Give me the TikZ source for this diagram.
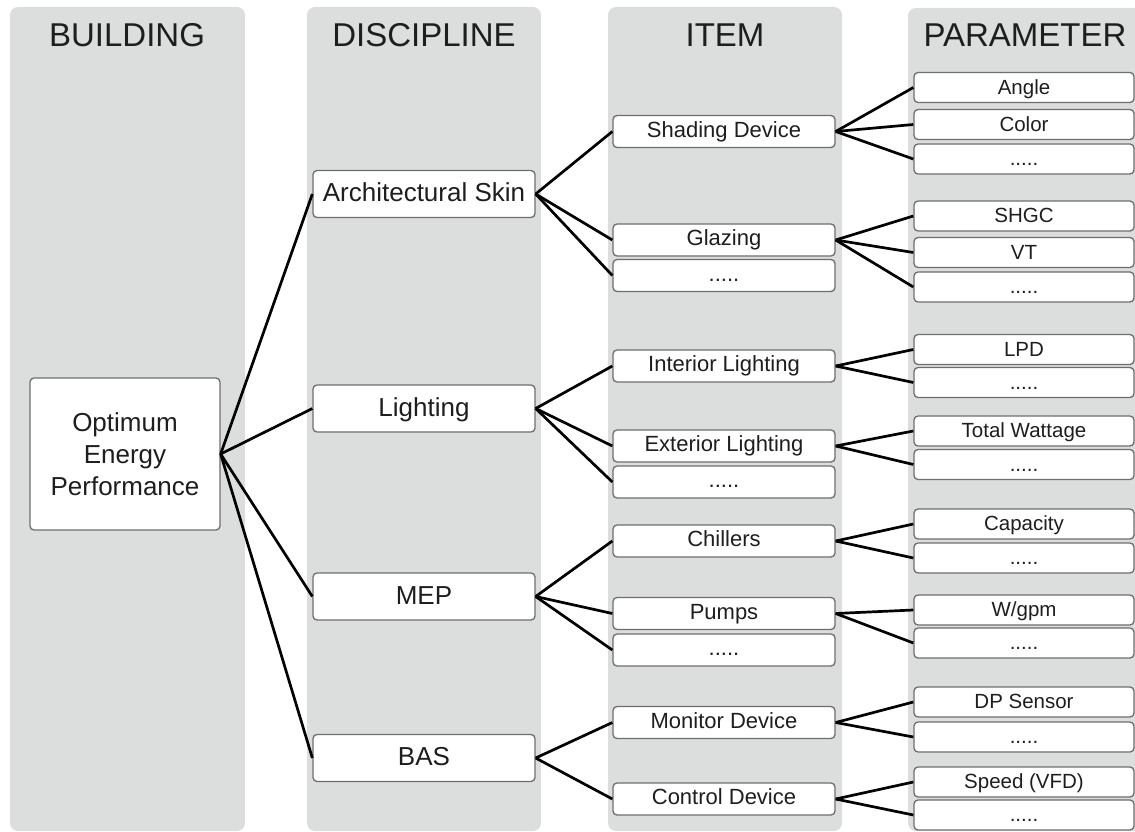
\documentclass[tikz,border=0pt]{standalone}
\usepackage{fontspec}
\setmainfont{Liberation Sans}

\definecolor{lanegray}{HTML}{DCDDDD}
\definecolor{boxline}{HTML}{6E6E6E}
\definecolor{ink}{HTML}{1E1E1E}

\begin{document}
\begin{tikzpicture}[x=1pt,y=-1pt, every node/.style={text=ink}]
        \tikzset{
            lane/.style={fill=lanegray, rounded corners=8pt},
            heading/.style={font=\fontsize{33}{36}\selectfont, text height=24pt, text depth=0pt, inner sep=0pt},
            anybox/.style={draw=boxline, line width=1.3pt, fill=white, rounded corners=4pt, inner sep=0pt},
            basebox/.style={anybox, align=center, minimum width=190pt, minimum height=152pt,
                    font=\fontsize{26}{32}\selectfont},
            discbox/.style={anybox, minimum width=222pt, minimum height=47pt,
                    font=\fontsize{26}{30}\selectfont, text height=18.7pt, text depth=3pt},
            itembox/.style={anybox, minimum width=222pt, minimum height=32pt,
                    font=\fontsize{22}{26}\selectfont, text height=15.8pt, text depth=4pt},
            parbox/.style={anybox, minimum width=220pt, minimum height=30pt,
                    font=\fontsize{20.5}{24}\selectfont, text height=14.7pt, text depth=1.5pt},
            link/.style={line width=2.7pt, black}
        }
        \clip (0,0) rectangle (1135,832);

        % grey lanes with their titles
        \fill[lane] (10,7) rectangle (245,831);
        \fill[lane] (307,7) rectangle (541,831);
        \fill[lane] (608,7) rectangle (842,831);
        \fill[lane] (908,8) rectangle (1142,831);
        \node[heading] (hbuilding) at (127,35) {BUILDING};
        \node[heading] (hdiscipline) at (424,35) {DISCIPLINE};
        \node[heading] (hitem) at (725,35) {ITEM};
        \node[heading] (hparameter) at (1025,35) {PARAMETER};

        % building
        \node[basebox] (opt) at (125,454) {Optimum\\Energy\\Performance};

        % disciplines
        \node[discbox] (skin) at (424,194) {Architectural Skin};
        \node[discbox] (light) at (424,408.5) {Lighting};
        \node[discbox] (mep) at (424,596.5) {MEP};
        \node[discbox] (bas) at (424,758) {BAS};

        % items
        \node[itembox] (shade) at (724,131.5) {Shading Device};
        \node[itembox] (glaze) at (724,240) {Glazing};
        \node[itembox] (skinmore) at (724,275.5) {.....};
        \node[itembox] (intlight) at (724,366) {Interior Lighting};
        \node[itembox] (extlight) at (724,446) {Exterior Lighting};
        \node[itembox] (lightmore) at (724,482) {.....};
        \node[itembox] (chill) at (724,541) {Chillers};
        \node[itembox] (pump) at (724,613.5) {Pumps};
        \node[itembox] (mepmore) at (724,650) {.....};
        \node[itembox] (monitor) at (724,722.5) {Monitor Device};
        \node[itembox] (control) at (724,799) {Control Device};

        % parameters
        \node[parbox] (angle) at (1024,87.5) {Angle};
        \node[parbox] (color) at (1024,124.5) {Color};
        \node[parbox] (shademore) at (1024,159) {.....};
        \node[parbox] (shgc) at (1024,216) {SHGC};
        \node[parbox] (vt) at (1024,252.5) {VT};
        \node[parbox] (glazemore) at (1024,287) {.....};
        \node[parbox] (lpd) at (1024,349.5) {LPD};
        \node[parbox] (intmore) at (1024,382.5) {.....};
        \node[parbox] (watt) at (1024,431) {Total Wattage};
        \node[parbox] (extmore) at (1024,464.5) {.....};
        \node[parbox] (cap) at (1024,524) {Capacity};
        \node[parbox] (chillmore) at (1024,558) {.....};
        \node[parbox] (wgpm) at (1024,610) {W/gpm};
        \node[parbox] (pumpmore) at (1024,643) {.....};
        \node[parbox] (dp) at (1024,702) {DP Sensor};
        \node[parbox] (monmore) at (1024,737) {.....};
        \node[parbox] (vfd) at (1024,782) {Speed (VFD)};
        \node[parbox] (conmore) at (1024,815) {.....};

        % tree links
        \foreach \a/\b in {opt/skin, opt/light, opt/mep, opt/bas,
                skin/shade, skin/glaze, skin/skinmore,
                light/intlight, light/extlight, light/lightmore,
                mep/chill, mep/pump, mep/mepmore,
                bas/monitor, bas/control,
                shade/angle, shade/color, shade/shademore,
                glaze/shgc, glaze/vt, glaze/glazemore,
                intlight/lpd, intlight/intmore,
                extlight/watt, extlight/extmore,
                chill/cap, chill/chillmore,
                pump/wgpm, pump/pumpmore,
                monitor/dp, monitor/monmore,
                control/vfd, control/conmore}
            \draw[link] (\a.east) -- (\b.west);
    \end{tikzpicture}
\end{document}
